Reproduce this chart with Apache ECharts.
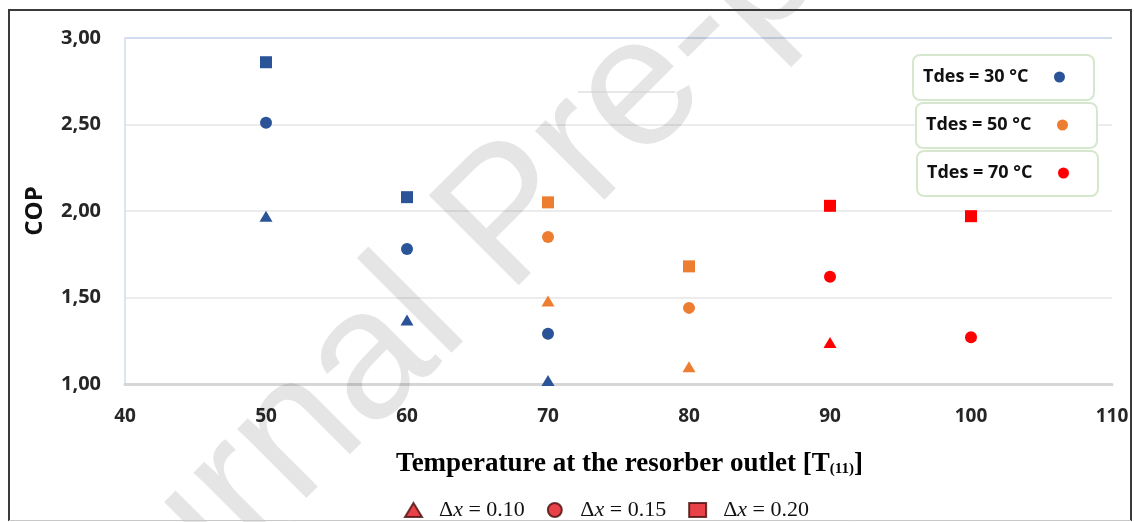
<!DOCTYPE html>
<html>
<head>
<meta charset="utf-8">
<script src="https://cdn.jsdelivr.net/npm/echarts@6/dist/echarts.min.js"></script>
<style>
html,body{margin:0;padding:0;background:#fff;}
#chart{width:1134px;height:522px;}
</style>
</head>
<body>
<div id="chart"></div>
<script>
// ---- data ----
const xTicks = [40, 50, 60, 70, 80, 90, 100, 110];
const yTicks = [1.0, 1.5, 2.0, 2.5, 3.0];

const temps30 = [50, 60, 70];
const cop30_dx010 = [1.97, 1.37, 1.02];
const cop30_dx015 = [2.51, 1.78, 1.29];
const cop30_dx020 = [2.86, 2.08, null];

const temps50 = [70, 80];
const cop50_dx010 = [1.48, 1.10];
const cop50_dx015 = [1.85, 1.44];
const cop50_dx020 = [2.05, 1.68];

const temps70 = [90, 100];
const cop70_dx010 = [1.24, null];
const cop70_dx015 = [1.62, 1.27];
const cop70_dx020 = [2.03, 1.97];

const tdesNames = ['Tdes = 30 °C', 'Tdes = 50 °C', 'Tdes = 70 °C'];
const dxNames = ['Δx = 0.10', 'Δx = 0.15', 'Δx = 0.20'];
const xTitle = 'Temperature at the resorber outlet [T';
const xTitleSub = '(11)';
const yTitle = 'COP';
const watermark = 'Journal Pre-proof';

// ---- styles ----
const colors = ['#2B5397', '#ED7D31', '#FF0000'];
const symbols = ['triangle', 'circle', 'rect'];
const symbolSizes = [[13, 11], 12, 12];

const groups = [
  { name: tdesNames[0], temps: temps30, cops: [cop30_dx010, cop30_dx015, cop30_dx020] },
  { name: tdesNames[1], temps: temps50, cops: [cop50_dx010, cop50_dx015, cop50_dx020] },
  { name: tdesNames[2], temps: temps70, cops: [cop70_dx010, cop70_dx015, cop70_dx020] }
];

const series = [];
groups.forEach((g, gi) => {
  g.cops.forEach((arr, di) => {
    const data = [];
    g.temps.forEach((t, i) => { if (arr[i] != null) data.push([t, arr[i]]); });
    series.push({
      type: 'scatter', name: g.name, data: data,
      symbol: symbols[di], symbolSize: symbolSizes[di],
      itemStyle: { color: colors[gi], opacity: 1 },
      z: 3
    });
  });
});
// legend-only series for Δx shapes
dxNames.forEach((n, di) => {
  series.push({
    type: 'scatter', name: n, data: [], symbol: symbols[di],
    itemStyle: { color: '#E3121A', borderColor: '#4a0c0c', borderWidth: 1 }
  });
});

const chart = echarts.init(document.getElementById('chart'), null, { renderer: 'canvas' });

const labelFont = { fontFamily: 'Open Sans', fontWeight: 'bold', fontSize: 19, color: '#262626' };

function tdesLegend(idx, left, top) {
  return {
    show: true, orient: 'horizontal', align: 'right',
    left: left, top: top,
    data: [{ name: tdesNames[idx], icon: 'circle' }],
    itemWidth: 52, itemHeight: 11, itemGap: 0,
    padding: [12, 29, 13, 10],
    borderColor: '#d5e8cd', borderWidth: 2, borderRadius: 7,
    backgroundColor: '#fff',
    selectedMode: false,
    textStyle: { fontFamily: 'Open Sans', fontWeight: 'bold', fontSize: 18, color: '#111', lineHeight: 20 }
  };
}

const option = {
  backgroundColor: '#fff',
  animation: false,
  grid: { left: 125, right: 22, top: 38, bottom: 138, containLabel: false },
  xAxis: {
    type: 'value', min: xTicks[0], max: xTicks[xTicks.length - 1], interval: 10,
    axisLine: { show: true, lineStyle: { color: '#d6d6d6', width: 3 } },
    axisTick: { show: false },
    splitLine: { show: false },
    axisLabel: Object.assign({ margin: 23 }, labelFont),
    name: '{t|' + xTitle + '}{s|' + xTitleSub + '}{t|]}',
    nameLocation: 'middle', nameGap: 65,
    nameTextStyle: {
      padding: [0, 0, 0, 22],
      rich: {
        t: { fontFamily: 'Liberation Serif', fontWeight: 'bold', fontSize: 27, color: '#000', lineHeight: 30 },
        s: { fontFamily: 'Liberation Serif', fontWeight: 'bold', fontSize: 15, color: '#000', lineHeight: 30, padding: [10, 0, 0, 0] }
      }
    }
  },
  yAxis: {
    type: 'value', min: yTicks[0], max: yTicks[yTicks.length - 1], interval: 0.5,
    axisLine: { show: true, lineStyle: { color: '#d3dbe9', width: 1.5 } },
    axisTick: { show: false },
    splitLine: { show: true, lineStyle: { color: ['#d6d6d6', '#ececec', '#ececec', '#ececec', '#d3ddef'], width: 2 } },
    axisLabel: Object.assign({ margin: 24, formatter: v => v.toFixed(2).replace('.', ',') }, labelFont, { fontSize: 20 }),
    name: yTitle, nameLocation: 'middle', nameGap: 78, nameRotate: 90,
    nameTextStyle: { fontFamily: 'Open Sans', fontWeight: 'bold', fontSize: 24, color: '#111' }
  },
  legend: [
    tdesLegend(0, 913, 55),
    tdesLegend(1, 916, 103),
    tdesLegend(2, 917, 151),
    {
      show: true, orient: 'horizontal', align: 'left',
      left: 399, top: 494,
      data: dxNames.map(n => ({ name: n })),
      itemWidth: 17, itemHeight: 14, itemGap: 22,
      selectedMode: false,
      formatter: n => '{d|Δ}{x|x}{n|' + n.slice(2) + '}',
      textStyle: {
        padding: [0, 0, 0, 12],
        rich: {
          d: { fontFamily: 'Liberation Serif', fontSize: 22, color: '#111' },
          x: { fontFamily: 'Liberation Serif', fontStyle: 'italic', fontSize: 22, color: '#111' },
          n: { fontFamily: 'Liberation Serif', fontSize: 22, color: '#111' }
        }
      }
    }
  ],
  graphic: [
    {
      type: 'text', x: 512, y: 220, rotation: Math.PI / 4, z: 1, silent: true,
      style: {
        text: watermark, fontSize: 185, fontFamily: 'Liberation Sans',
        fill: 'rgba(0,0,0,0.1)', textAlign: 'center', textVerticalAlign: 'middle'
      }
    },
    { type: 'line', z: 1, silent: true, shape: { x1: 578, y1: 92, x2: 675, y2: 92 }, style: { stroke: '#d0d0d0', lineWidth: 1 } },
    { type: 'polyline', z: 5, silent: true, shape: { points: [[9, 521], [9, 10], [1131, 10], [1131, 521]] }, style: { stroke: '#3a3a3a', lineWidth: 2, fill: null } },
    { type: 'line', z: 5, silent: true, shape: { x1: 9, y1: 520.5, x2: 1131, y2: 520.5 }, style: { stroke: '#c8c8c8', lineWidth: 1 } }
  ],
  series: series
};
chart.setOption(option);
</script>
</body>
</html>
